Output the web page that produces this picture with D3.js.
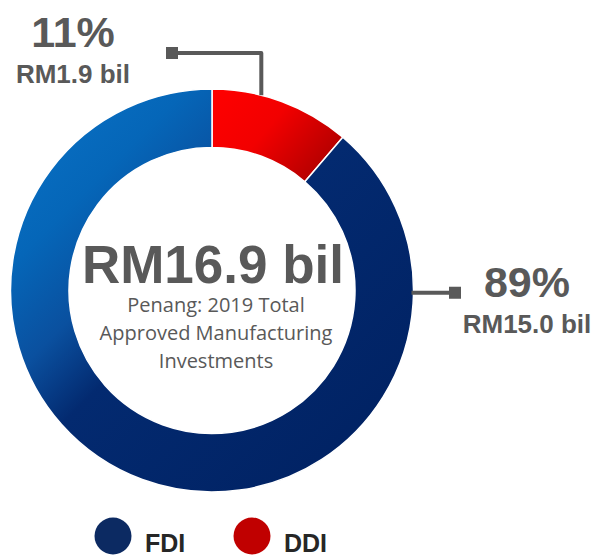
<!DOCTYPE html>
<html>
<head>
<meta charset="utf-8">
<script src="https://cdn.jsdelivr.net/npm/d3@7"></script>
<style>
  body { margin: 0; background: #fff; }
  svg { display: block; }
</style>
</head>
<body>
<div id="chart"></div>
<script>
// data
const categories = ["DDI", "FDI"];
const values = [1.9, 15.0];
const shares = ["11%", "89%"];
const amounts = ["RM1.9 bil", "RM15.0 bil"];
const totalLabel = "RM16.9 bil";
const subtitleLines = ["Penang: 2019 Total", "Approved Manufacturing", "Investments"];
const legendOrder = ["FDI", "DDI"];

const width = 607, height = 557;
const cx = 212, cy = 290.5;
const outerR = 201.5, innerR = 143;
const grey = "#595959";

const svg = d3.select("#chart")
    .append("svg")
    .attr("width", width)
    .attr("height", height);

// gradients (user space of the translated group, so centred on 0,0)
const defs = svg.append("defs");
const blue = defs.append("linearGradient")
    .attr("id", "gradFDI")
    .attr("gradientUnits", "userSpaceOnUse")
    .attr("x1", -outerR).attr("y1", -outerR)
    .attr("x2", outerR).attr("y2", outerR);
[[0, "#0a74c8"], [0.22, "#0566b8"], [0.36, "#0a509f"], [0.48, "#032a70"], [1, "#002060"]]
    .forEach(([o, c]) => blue.append("stop").attr("offset", o).attr("stop-color", c));

const red = defs.append("linearGradient")
    .attr("id", "gradDDI")
    .attr("x1", 0).attr("y1", 0).attr("x2", 1).attr("y2", 0.6);
[[0, "#ff0000"], [0.5, "#f20000"], [1, "#b40000"]]
    .forEach(([o, c]) => red.append("stop").attr("offset", o).attr("stop-color", c));

const fills = { FDI: "url(#gradFDI)", DDI: "url(#gradDDI)" };
const legendColors = { FDI: "#0c2a62", DDI: "#c00000" };

const data = categories.map((c, i) => ({ cat: c, value: values[i], share: shares[i], amount: amounts[i] }));

const pie = d3.pie().sort(null).value((d) => d.value);
const arc = d3.arc().innerRadius(innerR).outerRadius(outerR);
const arcs = pie(data);

const g = svg.append("g").attr("transform", `translate(${cx},${cy})`);

g.selectAll("path.slice")
    .data(arcs)
    .enter()
    .append("path")
    .attr("class", "slice")
    .attr("d", arc)
    .attr("fill", (d) => fills[d.data.cat])
    .attr("stroke", "#fff")
    .attr("stroke-width", 1.5);

// leader lines + labels
const labelLayout = {
    DDI: { frac: 0.35, elbowY: -237.5, squareX: -40, textX: -139, pctY: -244, amtY: -208, anchor: "middle" },
    FDI: { frac: 0.157, squareX: 243, textX: 315, pctY: 6, amtY: 42, anchor: "middle" }
};

arcs.forEach((d) => {
    const L = labelLayout[d.data.cat];
    const a = d.startAngle + L.frac * (d.endAngle - d.startAngle);
    const px = Math.sin(a) * outerR, py = -Math.cos(a) * outerR;
    let pts;
    if (d.data.cat === "DDI") {
        pts = [[px, py], [px, L.elbowY], [L.squareX, L.elbowY]];
    } else {
        pts = [[px - 2, py], [L.squareX, py]];
    }
    const end = pts[pts.length - 1];
    g.append("path")
        .attr("d", d3.line()(pts))
        .attr("fill", "none")
        .attr("stroke", grey)
        .attr("stroke-width", 4)
        .attr("stroke-linejoin", "round");
    g.append("rect")
        .attr("x", end[0] - 6).attr("y", end[1] - 6)
        .attr("width", 12).attr("height", 12)
        .attr("fill", grey);
    g.append("text")
        .attr("x", L.textX).attr("y", L.pctY)
        .attr("text-anchor", L.anchor)
        .attr("font-family", "Liberation Sans, Arial, sans-serif")
        .attr("font-weight", "bold")
        .attr("font-size", 43)
        .attr("fill", grey)
        .text(d.data.share);
    g.append("text")
        .attr("x", L.textX).attr("y", L.amtY)
        .attr("text-anchor", L.anchor)
        .attr("font-family", "Liberation Sans, Arial, sans-serif")
        .attr("font-weight", "bold")
        .attr("font-size", 26)
        .attr("fill", grey)
        .text(d.data.amount);
});

// center text
g.append("text")
    .attr("x", 1).attr("y", -7.5)
    .attr("text-anchor", "middle")
    .attr("font-family", "Liberation Sans, Arial, sans-serif")
    .attr("font-weight", "bold")
    .attr("font-size", 53)
    .attr("fill", grey)
    .text(totalLabel);

g.selectAll("text.sub")
    .data(subtitleLines)
    .enter()
    .append("text")
    .attr("class", "sub")
    .attr("x", 4)
    .attr("y", (d, i) => 21.5 + i * 28)
    .attr("text-anchor", "middle")
    .attr("font-family", "Open Sans, sans-serif")
    .attr("font-size", 20)
    .attr("fill", grey)
    .text((d) => d);

// legend
const legendX = d3.scalePoint().domain(legendOrder).range([113, 252]);
const legend = svg.selectAll("g.legend")
    .data(legendOrder)
    .enter()
    .append("g")
    .attr("class", "legend")
    .attr("transform", (d) => `translate(${legendX(d)},536)`);
legend.append("circle")
    .attr("r", 18.5)
    .attr("fill", (d) => legendColors[d]);
legend.append("text")
    .attr("x", 32).attr("y", 16)
    .attr("font-family", "Liberation Sans, Arial, sans-serif")
    .attr("font-weight", "bold")
    .attr("font-size", 25)
    .attr("fill", "#262626")
    .text((d) => d);
</script>
</body>
</html>
